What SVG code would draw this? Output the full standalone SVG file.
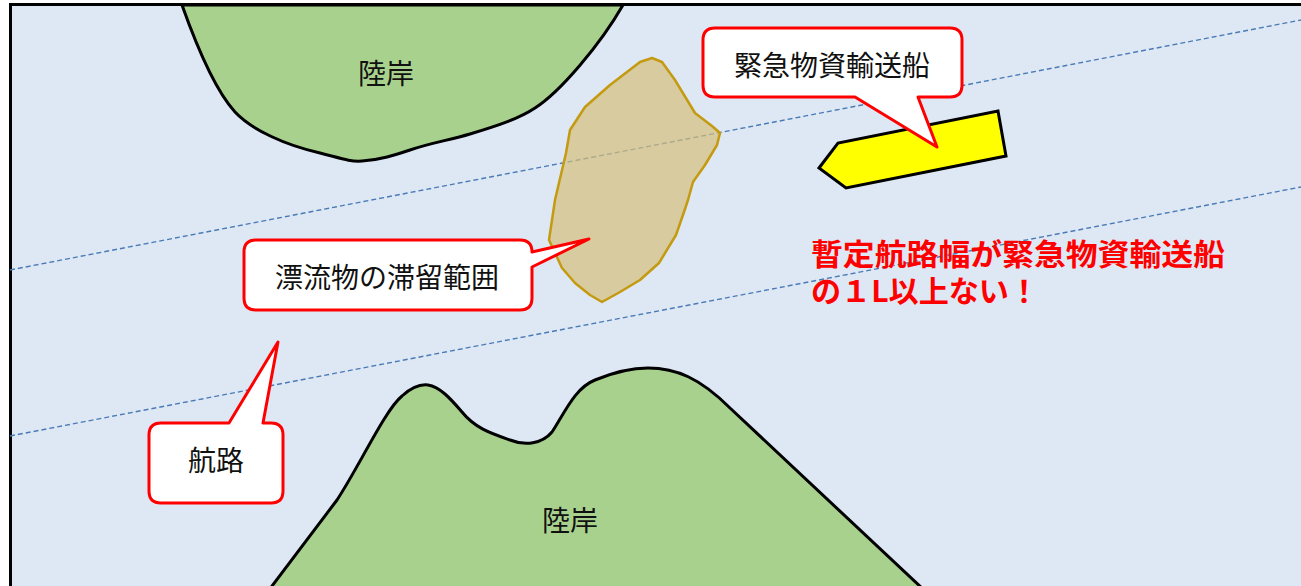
<svg xmlns="http://www.w3.org/2000/svg" width="1301" height="586" viewBox="0 0 1301 586">
  <defs>
    <style>
      .land { fill: #a9d18e; stroke: #000; stroke-width: 3; stroke-linejoin: round; }
      .land-label { font-family: "Noto Sans CJK JP", "Noto Sans", sans-serif; font-size: 28px; fill: #111; text-anchor: middle; }
      .callout { fill: #fff; stroke: #ff0000; stroke-width: 3; stroke-linejoin: round; }
      .callout-text { font-family: "Noto Sans CJK JP", "Noto Sans", sans-serif; font-size: 28px; fill: #111; text-anchor: middle; }
      .route { fill: none; stroke: #4a7bb5; stroke-width: 1.4; stroke-dasharray: 5 3; }
      .warning { font-family: "Noto Sans CJK JP", "Noto Sans", sans-serif; font-size: 30px; font-weight: bold; fill: #ff0000; }
    </style>
  </defs>

  <!-- sea area with frame -->
  <rect x="0" y="0" width="1301" height="586" fill="#ffffff"/>
  <rect id="sea" x="10.5" y="4.5" width="1310" height="600" fill="#dee8f5" stroke="#000" stroke-width="3"/>

  <!-- route boundary lines -->
  <g id="route-lines">
    <line class="route" x1="10" y1="270" x2="1301" y2="20"/>
    <line class="route" x1="10" y1="436" x2="1301" y2="187"/>
  </g>

  <!-- upper shore -->
  <g id="shore-top">
    <path class="land" d="M182,5 C198,50 215,90 235,112 C252,130 285,145 320,153 C340,158 350,162 362,161 C380,160 395,155 410,150 C430,143 450,140 470,134 C500,125 520,118 535,108 C560,92 600,45 623,5 Z"/>
    <text class="land-label" x="386" y="84">陸岸</text>
  </g>

  <!-- lower shore -->
  <g id="shore-bottom">
    <path class="land" d="M269,590 L337,500 C360,465 385,410 402,396 C412,387 420,384 428,385 C440,387 450,398 462,412 C475,428 490,433 510,440 C525,446 542,444 552,432 C565,412 575,388 595,380 C612,373 630,368 648,368 C676,368 700,378 730,408 L924,590 Z"/>
    <text class="land-label" x="570" y="531">陸岸</text>
  </g>

  <!-- area where drifting debris stays -->
  <g id="debris-area">
    <path d="M652,58 L662,62 L675,80 L695,113 L712,126 L720,133 L717,145 L705,165 L693,182 L688,200 L684,212 L676,235 L659,263 L640,280 L620,292 L602,302 L590,295 L575,283 L562,268 L549,240 L555,200 L566,153 L570,130 L585,107 L610,85 L640,62 Z" fill="#d4bf7a" fill-opacity="0.7" stroke="#c49a10" stroke-width="2.5" stroke-linejoin="round"/>
  </g>

  <!-- emergency supply ship -->
  <g id="ship">
    <polygon points="819,168 838,143 998,111 1006,156 846,188" fill="#ffff00" stroke="#000" stroke-width="3" stroke-linejoin="miter"/>
  </g>

  <!-- callouts -->
  <g id="callout-ship">
    <path class="callout" d="M715,28 H950 Q962,28 962,40 V85 Q962,97 950,97 H918 L937,147 L855,97 H715 Q703,97 703,85 V40 Q703,28 715,28 Z"/>
    <text class="callout-text" x="832" y="76">緊急物資輸送船</text>
  </g>

  <g id="callout-debris">
    <path class="callout" d="M256,240 H520 Q532,240 532,252 L589,239 L532,267 V298 Q532,310 520,310 H256 Q244,310 244,298 V252 Q244,240 256,240 Z"/>
    <text class="callout-text" x="387" y="288">漂流物の滞留範囲</text>
  </g>

  <g id="callout-route">
    <path class="callout" d="M161,423 H229 L278,342 L263,423 H271 Q283,423 283,435 V491 Q283,503 271,503 H161 Q149,503 149,491 V435 Q149,423 161,423 Z"/>
    <text class="callout-text" x="216" y="471">航路</text>
  </g>

  <!-- warning note -->
  <g id="warning">
    <text class="warning" x="811" y="265" textLength="414" lengthAdjust="spacingAndGlyphs">暫定航路幅が緊急物資輸送船</text>
    <text class="warning" x="811" y="302" textLength="228" lengthAdjust="spacingAndGlyphs">の１L以上ない！</text>
  </g>
</svg>
